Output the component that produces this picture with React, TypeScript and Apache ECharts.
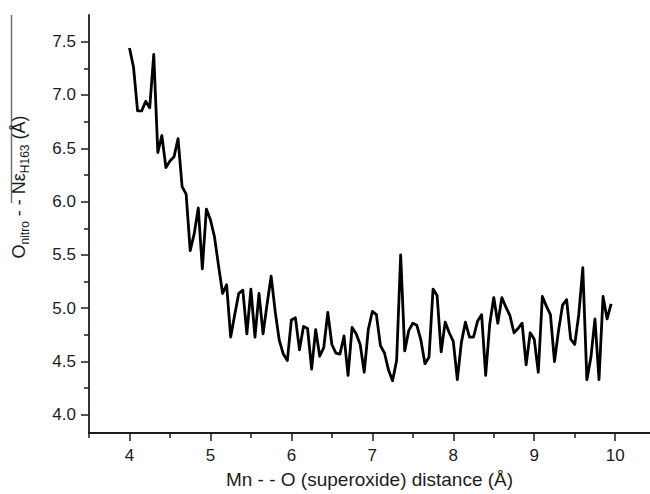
import React, { useEffect, useRef } from "react";
import * as echarts from "echarts";

const xValues = [
  4.0, 4.05, 4.1, 4.15, 4.2, 4.25, 4.3, 4.35, 4.4, 4.45, 4.5, 4.55, 4.6, 4.65, 4.7, 4.75, 4.8, 4.85, 4.9, 4.95,
  5.0, 5.05, 5.1, 5.15, 5.2, 5.25, 5.3, 5.35, 5.4, 5.45, 5.5, 5.55, 5.6, 5.65, 5.7, 5.75, 5.8, 5.85, 5.9, 5.95,
  6.0, 6.05, 6.1, 6.15, 6.2, 6.25, 6.3, 6.35, 6.4, 6.45, 6.5, 6.55, 6.6, 6.65, 6.7, 6.75, 6.8, 6.85, 6.9, 6.95,
  7.0, 7.05, 7.1, 7.15, 7.2, 7.25, 7.3, 7.35, 7.4, 7.45, 7.5, 7.55, 7.6, 7.65, 7.7, 7.75, 7.8, 7.85, 7.9, 7.95,
  8.0, 8.05, 8.1, 8.15, 8.2, 8.25, 8.3, 8.35, 8.4, 8.45, 8.5, 8.55, 8.6, 8.65, 8.7, 8.75, 8.8, 8.85, 8.9, 8.95,
  9.0, 9.05, 9.1, 9.15, 9.2, 9.25, 9.3, 9.35, 9.4, 9.45, 9.5, 9.55, 9.6, 9.65, 9.7, 9.75, 9.8, 9.85, 9.9, 9.95,
];

const distanceValues = [
  7.44, 7.26, 6.85, 6.85, 6.94, 6.88, 7.38, 6.46, 6.62, 6.32, 6.38, 6.42, 6.59, 6.14, 6.07, 5.54, 5.7, 5.94, 5.37, 5.93,
  5.83, 5.67, 5.4, 5.14, 5.22, 4.73, 4.94, 5.14, 5.17, 4.76, 5.18, 4.73, 5.14, 4.76, 5.04, 5.3, 4.97, 4.7, 4.57, 4.51,
  4.89, 4.91, 4.61, 4.83, 4.81, 4.43, 4.8, 4.55, 4.63, 4.96, 4.66, 4.58, 4.57, 4.74, 4.37, 4.82, 4.76, 4.66, 4.4, 4.8,
  4.97, 4.94, 4.65, 4.58, 4.42, 4.32, 4.51, 5.5, 4.6, 4.79, 4.86, 4.84, 4.7, 4.48, 4.54, 5.18, 5.12, 4.59, 4.87, 4.77,
  4.69, 4.33, 4.68, 4.87, 4.73, 4.73, 4.88, 4.94, 4.37, 4.85, 5.1, 4.86, 5.1, 5.01, 4.93, 4.77, 4.81, 4.86, 4.47, 4.77,
  4.71, 4.4, 5.11, 5.02, 4.94, 4.5, 4.79, 5.03, 5.08, 4.71, 4.66, 4.94, 5.38, 4.33, 4.54, 4.9, 4.33, 5.11, 4.9, 5.04,
];

const xMajorTicks = [4, 5, 6, 7, 8, 9, 10];
const xMinorTicks = [3.5, 4.5, 5.5, 6.5, 7.5, 8.5, 9.5];
const yMajorTicks = [4.0, 4.5, 5.0, 5.5, 6.0, 6.5, 7.0, 7.5];
const yMinorTicks = [4.25, 4.75, 5.25, 5.75, 6.25, 6.75, 7.25];

const xTitle = "Mn - - O (superoxide) distance (Å)";
const yTitleRich = "{a|O}{s|nitro}{a| - - Nε}{s|H163}{a| (Å)}";

const FONT = "'Liberation Sans', Arial, Helvetica, sans-serif";
const INK = "#1c1c1c";

export default function App() {
  const ref = useRef<HTMLDivElement>(null);

  useEffect(() => {
    if (!ref.current) return;
    const chart = echarts.init(ref.current, undefined, { renderer: "svg" });
    const xMin = 3.5;
    const xMax = 10.43;
    const yMin = 3.83;
    const yMax = 7.75;
    const axisLine = { show: true, onZero: false, lineStyle: { color: INK, width: 1.8 } };
    chart.setOption({
      animation: false,
      backgroundColor: "#ffffff",
      grid: { left: 89, right: 0, top: 15, bottom: 58, containLabel: false },
      xAxis: [
        {
          type: "value",
          position: "bottom",
          min: xMin,
          max: xMax,
          axisLine,
          axisTick: { show: true, customValues: xMajorTicks, length: 8, lineStyle: { color: INK, width: 1.5 } },
          axisLabel: {
            show: true,
            customValues: xMajorTicks,
            margin: 14,
            fontSize: 17,
            fontFamily: FONT,
            color: INK,
            formatter: (v: number) => String(v),
          },
          splitLine: { show: false },
          name: xTitle,
          nameLocation: "middle",
          nameGap: 37,
          nameTextStyle: { fontSize: 19, fontFamily: FONT, color: INK },
        },
        {
          type: "value",
          position: "bottom",
          min: xMin,
          max: xMax,
          axisLine: { show: false, onZero: false },
          axisTick: { show: true, customValues: xMinorTicks, length: 5, lineStyle: { color: INK, width: 1.5 } },
          axisLabel: { show: false },
          splitLine: { show: false },
        },
      ],
      yAxis: [
        {
          type: "value",
          position: "left",
          min: yMin,
          max: yMax,
          axisLine,
          axisTick: { show: true, customValues: yMajorTicks, length: 8, lineStyle: { color: INK, width: 1.5 } },
          axisLabel: {
            show: true,
            customValues: yMajorTicks,
            margin: 13,
            fontSize: 17,
            fontFamily: FONT,
            color: INK,
            formatter: (v: number) => v.toFixed(1),
          },
          splitLine: { show: false },
        },
        {
          type: "value",
          position: "left",
          min: yMin,
          max: yMax,
          axisLine: { show: false, onZero: false },
          axisTick: { show: true, customValues: yMinorTicks, length: 5, lineStyle: { color: INK, width: 1.5 } },
          axisLabel: { show: false },
          splitLine: { show: false },
        },
      ],
      graphic: [
        {
          type: "line",
          shape: { x1: 11.5, y1: 15, x2: 11.5, y2: 203 },
          style: { stroke: "#707070", lineWidth: 1.5 },
          silent: true,
        },
        {
          type: "text",
          x: 19,
          y: 187,
          rotation: Math.PI / 2,
          silent: true,
          style: {
            text: yTitleRich,
            align: "center",
            verticalAlign: "middle",
            fill: INK,
            rich: {
              a: { fontSize: 18, fontFamily: FONT, fill: INK, color: INK, lineHeight: 24 },
              s: { fontSize: 12, fontFamily: FONT, fill: INK, color: INK, lineHeight: 2, verticalAlign: "bottom" },
            },
          },
        },
      ],
      series: [
        {
          type: "line",
          xAxisIndex: 0,
          yAxisIndex: 0,
          data: xValues.map((x, i) => [x, distanceValues[i]]),
          showSymbol: false,
          symbol: "none",
          lineStyle: { color: "#000000", width: 2.8, join: "round" },
          silent: true,
        },
      ],
    });
    return () => chart.dispose();
  }, []);

  return (
    <div
      ref={ref}
      style={{ position: "fixed", left: 0, top: 0, width: 650, height: 494, background: "#ffffff" }}
    />
  );
}
